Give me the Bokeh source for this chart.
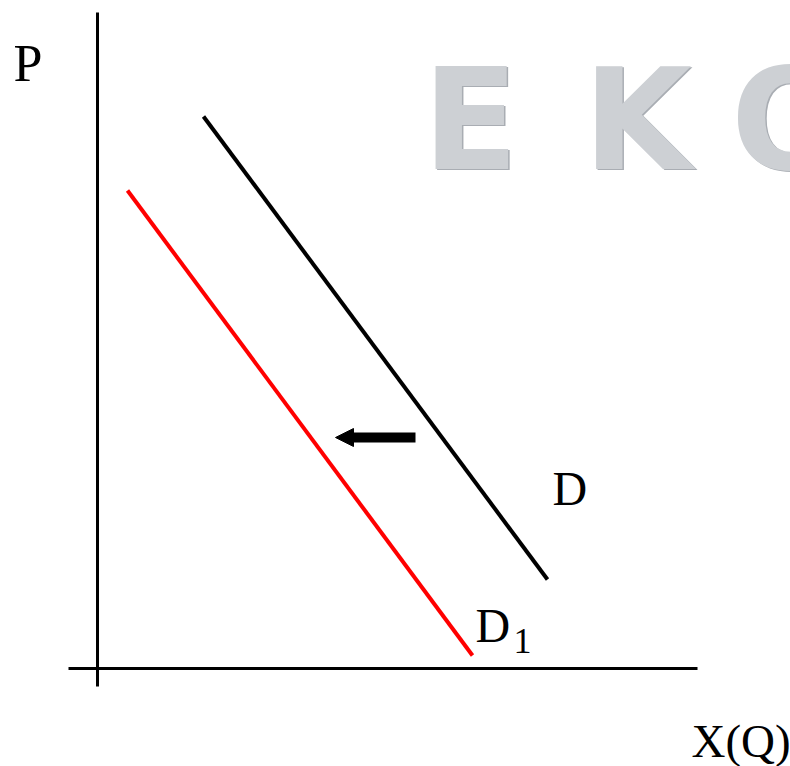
from bokeh.plotting import figure
from bokeh.models import Range1d, Arrow, NormalHead
from bokeh.core.properties import value
from bokeh.embed import file_html
from bokeh.resources import INLINE

# Demand curves (quantity, price) in chart units; origin at the axes crossing
d_q = [106, 450]
d_p = [552, 89]
d1_q = [30, 375]
d1_p = [478, 13]

# Axis extents
q_axis = [-29, 600]
p_axis = [-18, 656]

# Shift arrow (from D towards D1)
shift_q = [318, 238]
shift_p = 231

# Watermark letters
wm_letters = ["E", "K", "O"]

W, H = 790, 766
p = figure(width=W, height=H, output_backend="svg", toolbar_location=None,
           x_range=Range1d(-97, W - 97), y_range=Range1d(-98, H - 98),
           min_border=0)
p.axis.visible = False
p.grid.visible = False
p.outline_line_color = None
p.background_fill_color = "white"
p.border_fill_color = "white"

serif = value("Liberation Serif")
wm_font = value("DejaVu Sans")


def label(x, y, txt, size, font=serif, color="black", align="left", style="normal"):
    # baseline placed at y (chart units); SVG text sits about 0.36 em low, so lift it
    p.text(x=[x], y=[y + 0.36 * size], text=[txt], text_font=font,
           text_font_size=f"{size}px", text_color=color, text_align=align,
           text_font_style=style, text_baseline="alphabetic")


# Watermark: darker rim underneath a lighter face
for ch, q in zip(wm_letters, [373, 540, 693]):
    label(q + 1.5, 496.5, ch, 140, font=wm_font, color="#a9adb3", align="center", style="bold")
    label(q, 498, ch, 140, font=wm_font, color="#cdd0d4", align="center", style="bold")

# Axes
p.line(x=[0, 0], y=p_axis, line_color="black", line_width=3)
p.line(x=q_axis, y=[0, 0], line_color="black", line_width=3)

# Demand curves
p.line(x=d_q, y=d_p, line_color="black", line_width=4)
p.line(x=d1_q, y=d1_p, line_color="#ff0000", line_width=4)

# Shift arrow
p.add_layout(Arrow(end=NormalHead(size=18, fill_color="black", line_color="black", line_width=1),
                   x_start=shift_q[0], y_start=shift_p, x_end=shift_q[1], y_end=shift_p,
                   line_width=10, line_color="black"))

# Labels
label(-84, 586, "P", 52)
label(455, 163, "D", 48)
label(378, 26, "D", 48)
label(416, 15, "1", 36)
label(594, -89, "X(Q)", 47)

open("out.html", "w").write(file_html(p, INLINE))
